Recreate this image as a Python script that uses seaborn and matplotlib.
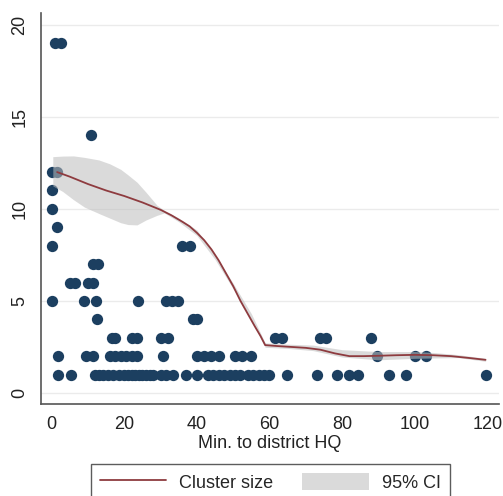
import numpy as np
import pandas as pd
import seaborn as sns
import matplotlib.pyplot as plt
from matplotlib.lines import Line2D
from matplotlib.patches import Patch

# minutes to district HQ, grouped by cluster size
size_1 = [1.8, 5.2, 12, 13, 14, 15.5, 17, 18.5, 20, 21, 22, 23, 24, 25, 26, 27, 28,
          30, 31.5, 33.5, 37, 40, 43, 44.5, 46, 47.5, 49, 50.5, 52, 54, 55.5, 57,
          58.5, 59.8, 64.7, 73, 78.6, 82, 84.5, 93, 97.7, 119.5]
size_2 = [1.8, 9.5, 11.5, 16, 17.5, 19, 20.5, 22, 23.5, 30.7, 40, 42, 44, 46,
          50.5, 52.5, 55, 89.5, 100, 103]
size_3 = [16.5, 17.5, 22, 23.5, 30, 32, 61.5, 63.5, 74, 75.5, 88]
size_4 = [12.5, 39, 40]
size_5 = [0, 9, 12.3, 23.8, 31.5, 33, 34.8]
size_6 = [5, 6.5, 10, 11.5]
size_7 = [11.3, 12.7]
size_8 = [0, 36, 38]
size_9 = [1.5]
size_10 = [0]
size_11 = [0]
size_12 = [0, 1.5]
size_14 = [10.7]
size_19 = [1, 2.5]

groups = {1: size_1, 2: size_2, 3: size_3, 4: size_4, 5: size_5, 6: size_6,
          7: size_7, 8: size_8, 9: size_9, 10: size_10, 11: size_11,
          12: size_12, 14: size_14, 19: size_19}

# local polynomial fit
fit_x = [1.5, 5, 10, 15, 20, 25, 30, 33, 36, 38, 40, 42, 44, 46, 48, 50, 52, 54,
         56, 57.5, 58.8, 62, 66, 70, 74, 78, 82, 86, 90, 95, 100, 105, 110, 115, 119.5]
fit_y = [12.0, 11.75, 11.35, 11.0, 10.7, 10.35, 9.95, 9.65, 9.3, 9.05, 8.7, 8.3,
         7.8, 7.2, 6.5, 5.8, 5.0, 4.3, 3.6, 3.1, 2.6, 2.55, 2.5, 2.45, 2.35, 2.15,
         2.0, 2.0, 2.02, 2.05, 2.07, 2.05, 2.0, 1.9, 1.8]

# 95% CI
ci_x = [0.3, 3, 6, 9, 13, 16, 19, 21, 23.5, 26, 29, 31, 35, 40, 45, 50, 55, 58.8,
        65, 72, 80, 90, 100, 105, 112, 119.5]
ci_hi = [12.84, 12.87, 12.88, 12.8, 12.66, 12.45, 12.15, 11.85, 11.45, 10.9, 10.2,
         9.92, 9.5, 8.85, 7.5, 5.95, 4.3, 2.72, 2.65, 2.6, 2.35, 2.25, 2.25, 2.2,
         2.08, 1.88]
ci_lo = [11.25, 10.95, 10.5, 10.1, 9.75, 9.5, 9.25, 9.15, 9.13, 9.4, 9.65, 9.78,
         9.3, 8.55, 7.25, 5.65, 3.95, 2.48, 2.42, 2.3, 1.95, 1.8, 1.88, 1.9, 1.92,
         1.72]

rows = [(x, s) for s, xs in groups.items() for x in xs]
df = pd.DataFrame(rows, columns=["minutes", "cluster"])
fit = pd.DataFrame({"minutes": fit_x, "cluster": fit_y})

navy = "#1c3f60"
maroon = "#8e3b3f"
band = "#bdbdbd"
axis_col = "#555555"

sns.set_style("white")
plt.rcParams["font.family"] = ["Liberation Sans", "DejaVu Sans"]

fig = plt.figure(figsize=(5.03, 4.96), dpi=100)
ax = fig.add_axes([0.0815, 0.1855, 0.9105, 0.7885])

sns.scatterplot(data=df, x="minutes", y="cluster", ax=ax, color=navy, s=66,
                linewidth=0, zorder=2, legend=False)
ax.fill_between(ci_x, ci_lo, ci_hi, color=band, alpha=0.55, lw=0, zorder=3)
sns.lineplot(data=fit, x="minutes", y="cluster", ax=ax, color=maroon, lw=1.3,
             sort=False, estimator=None, zorder=4)

ax.set_xlim(-2.95, 123.2)
ax.set_ylim(-0.6, 20.65)
ax.set_xticks(range(0, 121, 20))
ax.set_yticks(range(0, 21, 5))
ax.yaxis.grid(True, color="#ebebeb", lw=1)
ax.set_axisbelow(True)

for side in ["top", "right"]:
    ax.spines[side].set_visible(False)
for side in ["left", "bottom"]:
    ax.spines[side].set_color(axis_col)
    ax.spines[side].set_linewidth(1.2)

ax.tick_params(axis="both", direction="out", length=4, width=1.1, color=axis_col,
               labelsize=13, labelcolor="#222222")
ax.tick_params(axis="x", pad=5)
ax.tick_params(axis="y", pad=5)
for lab in ax.get_yticklabels():
    lab.set_rotation(90)
    lab.set_va("center")

ax.set_xlabel("Min. to district HQ", fontsize=13, color="#222222", labelpad=1)
ax.set_ylabel("")

handles = [Line2D([0], [0], color=maroon, lw=1.3),
           Patch(facecolor="#dadada", edgecolor="none")]
leg = fig.legend(handles, ["Cluster size", "95% CI"], loc="upper center",
                 bbox_to_anchor=(0.537, 0.0645), ncol=2, frameon=True,
                 fancybox=False, edgecolor="#333333", fontsize=13,
                 handlelength=3.7, handleheight=1.05, columnspacing=1.6,
                 handletextpad=0.7, borderpad=0.5, borderaxespad=0)
leg.get_frame().set_linewidth(1.0)

fig.savefig("out.png", dpi=100)
